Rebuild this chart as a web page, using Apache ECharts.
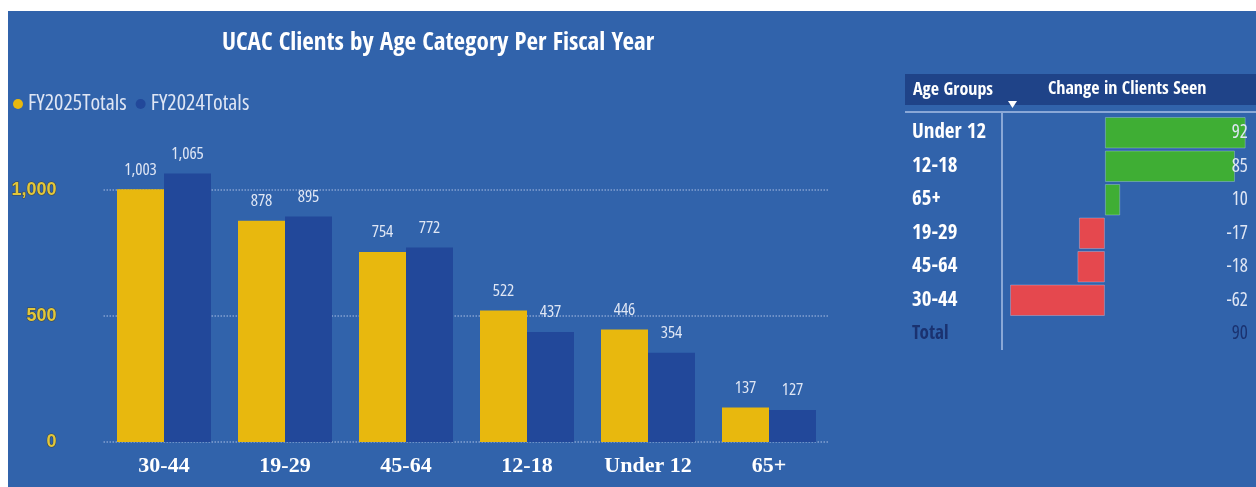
<!DOCTYPE html>
<html>
<head>
<meta charset="utf-8">
<script src="https://cdn.jsdelivr.net/npm/echarts@6/dist/echarts.min.js"></script>
<style>
  html, body { margin: 0; padding: 0; background: #ffffff; }
  #chart { width: 1256px; height: 487px; }
</style>
</head>
<body>
<div id="chart"></div>
<script>
// Clients per age category, two fiscal years
const ageCategories = ['30-44', '19-29', '45-64', '12-18', 'Under 12', '65+'];
const fy2025Totals = [1003, 878, 754, 522, 446, 137];
const fy2024Totals = [1065, 895, 772, 437, 354, 127];
const valueTicks = { min: 0, max: 1500, step: 500 };

// Change in clients seen, sorted by change
const changeGroups = ['Under 12', '12-18', '65+', '19-29', '45-64', '30-44'];
const changeValues = [92, 85, 10, -17, -18, -62];
const changeTotal = 90;

const NARROW_BOLD = '"Open Sans Condensed","Roboto Condensed",sans-serif';
const OPEN = '"Open Sans",sans-serif';
const SERIF = '"Liberation Serif","DejaVu Serif",serif';
const PANEL = '#3163ab';
const GOLD = '#e8b80e';
const NAVY = '#22489a';
const LIGHT = '#dfe6f4';

// regular-weight condensed text: font-stretch goes in the style slot of the font shorthand
const lightText = (size, color) => ({
  color: color, fontFamily: OPEN, fontStyle: 'condensed', fontWeight: 'normal', fontSize: size
});

const tableRows = changeGroups.concat(['Total']);
const tableValueLabels = changeValues.map(String).concat([String(changeTotal)]);
const tableBars = changeValues.map(v => ({
  value: v,
  itemStyle: { color: v >= 0 ? '#3fae34' : '#e5484e' }
})).concat(['-']);

const chart = echarts.init(document.getElementById('chart'), null, { renderer: 'canvas' });

chart.setOption({
  backgroundColor: '#ffffff',
  animation: false,
  graphic: [
    { type: 'rect', z: -10, shape: { x: 8, y: 11, width: 1248, height: 476 }, style: { fill: PANEL } },
    { type: 'rect', z: -9, shape: { x: 905, y: 74, width: 351, height: 31 }, style: { fill: '#1f4388' } },
    { type: 'line', z: 5, shape: { x1: 905, y1: 112, x2: 1256, y2: 112 }, style: { stroke: '#a8bfe6', lineWidth: 1.5 } },
    { type: 'line', z: 5, shape: { x1: 1002, y1: 113, x2: 1002, y2: 350 }, style: { stroke: '#a8bfe6', lineWidth: 1.5 } },
    { type: 'polygon', z: 5, shape: { points: [[1008, 101], [1017, 101], [1012.5, 108]] }, style: { fill: '#ffffff' } },
    { type: 'text', x: 913, y: 90, style: { text: 'Age Groups', fill: '#ffffff', font: 'bold 18px ' + NARROW_BOLD, verticalAlign: 'middle' } },
    { type: 'text', x: 1048, y: 89, style: { text: 'Change in Clients Seen', fill: '#ffffff', font: 'bold 18px ' + NARROW_BOLD, verticalAlign: 'middle' } },
    { type: 'text', x: 438, y: 43, style: { text: 'UCAC Clients by Age Category Per Fiscal Year', fill: '#ffffff', font: 'bold 25px ' + NARROW_BOLD, align: 'center', verticalAlign: 'middle' } }
  ],
  legend: {
    left: 8, top: 88,
    icon: 'circle', itemWidth: 10, itemHeight: 10, itemGap: 9,
    textStyle: lightText(22, LIGHT),
    data: ['FY2025Totals', 'FY2024Totals']
  },
  grid: [
    { left: 103.5, width: 726, top: 64, bottom: 45 },
    { left: 1007, width: 244.8, top: 116, height: 234.5 }
  ],
  xAxis: [
    {
      type: 'category', gridIndex: 0, data: ageCategories,
      axisLine: { show: false }, axisTick: { show: false },
      axisLabel: { color: '#ffffff', fontFamily: SERIF, fontWeight: 'bold', fontSize: 22, margin: 13 }
    },
    { type: 'value', gridIndex: 1, min: -64, max: 96, show: false }
  ],
  yAxis: [
    {
      type: 'value', gridIndex: 0,
      min: valueTicks.min, max: valueTicks.max, interval: valueTicks.step,
      axisLine: { show: false }, axisTick: { show: false },
      axisLabel: {
        showMaxLabel: false, margin: 47,
        color: '#e2c63a', fontFamily: '"Liberation Sans",sans-serif', fontWeight: 'bold', fontSize: 18,
        textBorderColor: 'rgba(60,50,10,0.6)', textBorderWidth: 1,
        formatter: v => v.toLocaleString('en-US')
      },
      splitLine: { showMaxLine: false, lineStyle: { color: 'rgba(200,212,240,0.55)', type: 'dotted', width: 1.5 } }
    },
    {
      type: 'category', gridIndex: 1, inverse: true, data: tableRows,
      axisLine: { show: false }, axisTick: { show: false },
      axisLabel: {
        align: 'left', margin: 95,
        formatter: v => v === 'Total' ? '{t|Total}' : '{r|' + v + '}',
        rich: {
          r: { color: '#ffffff', fontFamily: NARROW_BOLD, fontWeight: 'bold', fontSize: 21 },
          t: { color: '#1a3270', fontFamily: NARROW_BOLD, fontWeight: 'bold', fontSize: 19 }
        }
      }
    },
    {
      type: 'category', gridIndex: 1, inverse: true, position: 'right', data: tableValueLabels, z: 10,
      axisLine: { show: false }, axisTick: { show: false },
      axisLabel: {
        align: 'right', margin: -4,
        formatter: (v, i) => i === tableValueLabels.length - 1 ? '{t|' + v + '}' : '{r|' + v + '}',
        rich: {
          r: lightText(19, LIGHT),
          t: lightText(19, '#1a3270')
        }
      }
    }
  ],
  series: [
    {
      name: 'FY2025Totals', type: 'bar', xAxisIndex: 0, yAxisIndex: 0,
      data: fy2025Totals, barWidth: 47, barGap: '0%',
      itemStyle: { color: GOLD },
      label: Object.assign({ show: true, position: 'top', distance: 11,
        formatter: p => p.value.toLocaleString('en-US') }, lightText(17, LIGHT))
    },
    {
      name: 'FY2024Totals', type: 'bar', xAxisIndex: 0, yAxisIndex: 0,
      data: fy2024Totals, barWidth: 47, barGap: '0%',
      itemStyle: { color: NAVY },
      label: Object.assign({ show: true, position: 'top', distance: 11,
        formatter: p => p.value.toLocaleString('en-US') }, lightText(17, LIGHT))
    },
    {
      name: 'Change in Clients Seen', type: 'bar', xAxisIndex: 1, yAxisIndex: 1,
      data: tableBars, barCategoryGap: '6%',
      itemStyle: { borderColor: 'rgba(190,215,250,0.35)', borderWidth: 1 }
    }
  ]
});
</script>
</body>
</html>
